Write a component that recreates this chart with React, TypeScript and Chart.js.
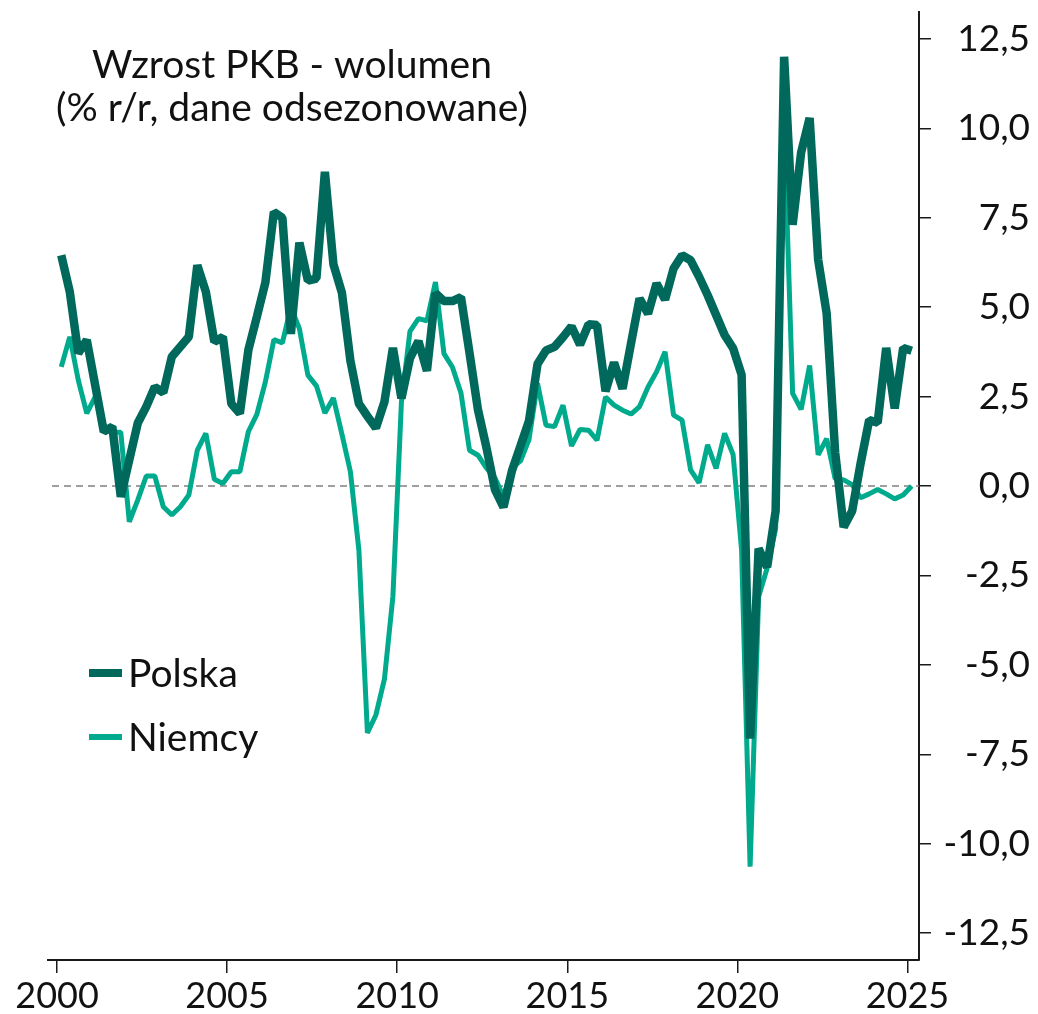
import React, { useEffect, useRef } from "react";
import { Chart, registerables } from "chart.js";

Chart.register(...registerables);

const START_YEAR = 2000;
const QUARTER_COUNT = 101; // 2000Q1 .. 2025Q1

const polska: number[] = [
  6.45, 5.43, 3.71, 4.08, 2.8, 1.52, 1.66, -0.3, 0.73, 1.76,
  2.22, 2.77, 2.61, 3.61, 3.89, 4.17, 6.17, 5.43, 4.03, 4.17,
  2.3, 2.03, 3.8, 4.73, 5.69, 7.66, 7.5, 4.25, 6.8, 5.74,
  5.8, 8.78, 6.2, 5.4, 3.5, 2.3, 1.95, 1.62, 2.35, 3.86,
  2.45, 3.57, 4.05, 3.22, 5.39, 5.17, 5.17, 5.28, 3.73, 2.13,
  1.07, -0.1, -0.59, 0.43, 1.12, 1.82, 3.41, 3.79, 3.89, 4.16,
  4.46, 3.95, 4.52, 4.5, 2.65, 3.45, 2.72, 3.99, 5.24, 4.82,
  5.66, 5.21, 6.08, 6.45, 6.31, 5.85, 5.34, 4.78, 4.22, 3.85,
  3.11, -7.06, -1.75, -2.27, -0.7, 12.0, 7.3, 9.32, 10.29, 6.33,
  4.83, 0.94, -1.15, -0.7, 0.64, 1.84, 1.77, 3.86, 2.17, 3.86,
  3.78,
];

const niemcy: number[] = [
  3.33, 4.17, 2.96, 2.03, 2.5, 1.7, 1.5, 1.5, -1.0, -0.39,
  0.28, 0.28, -0.58, -0.81, -0.58, -0.25, 1.0, 1.47, 0.19, 0.07,
  0.4, 0.4, 1.52, 2.0, 2.91, 4.09, 4.0, 5.0, 4.4, 3.1,
  2.8, 2.04, 2.46, 1.45, 0.4, -1.8, -6.9, -6.4, -5.4, -3.08,
  2.35, 4.32, 4.68, 4.62, 5.7, 3.7, 3.32, 2.6, 1.0, 0.86,
  0.5, 0.22, -0.3, 0.5, 0.7, 1.3, 2.87, 1.7, 1.66, 2.26,
  1.12, 1.58, 1.56, 1.28, 2.49, 2.26, 2.12, 2.01, 2.22, 2.77,
  3.19, 3.75, 1.98, 1.84, 0.45, 0.09, 1.15, 0.49, 1.47, 0.88,
  -1.8, -10.64, -3.1, -2.3, -1.2, 10.0, 2.59, 2.14, 3.37, 0.87,
  1.32, 0.2, 0.17, 0.04, -0.33, -0.22, -0.1, -0.22, -0.36, -0.25,
  0.0,
];

const seriesLabels = ["Polska", "Niemcy"];
const xTickYears = [2000, 2005, 2010, 2015, 2020, 2025];
const yTickValues = [-12.5, -10, -7.5, -5, -2.5, 0, 2.5, 5, 7.5, 10, 12.5];
const titleLines = ["Wzrost PKB - wolumen", "(% r/r, dane odsezonowane)"];

const DARK = "#00695B";
const LIGHT = "#00AA8C";
const FONT = "Lato, 'Noto Sans', sans-serif";

const quarterX = (i: number) => START_YEAR + Math.floor(i / 4) + (i % 4) / 4 + 0.125;

const zeroLinePlugin = {
  id: "zeroLine",
  beforeDatasetsDraw(chart: any) {
    const { ctx, chartArea, scales } = chart;
    const y = scales.y.getPixelForValue(0);
    ctx.save();
    ctx.strokeStyle = "#808080";
    ctx.lineWidth = 1.5;
    ctx.setLineDash([7, 5]);
    ctx.beginPath();
    ctx.moveTo(chartArea.left + 4, y);
    ctx.lineTo(chartArea.right, y);
    ctx.stroke();
    ctx.restore();
  },
};

const textPlugin = {
  id: "textOverlay",
  afterDraw(chart: any) {
    const { ctx } = chart;
    ctx.save();
    ctx.fillStyle = "#111";
    ctx.font = `39px ${FONT}`;
    ctx.textAlign = "center";
    ctx.textBaseline = "alphabetic";
    ctx.fillText(titleLines[0], 284, 70);
    ctx.fillText(titleLines[1], 284, 113);

    // legend
    const items = chart.data.datasets;
    const rows = [665, 729];
    ctx.textAlign = "left";
    ctx.textBaseline = "middle";
    ctx.font = `39px ${FONT}`;
    items.forEach((ds: any, k: number) => {
      const y = rows[k];
      ctx.strokeStyle = ds.borderColor;
      ctx.lineWidth = k === 0 ? 8 : 6;
      ctx.beginPath();
      ctx.moveTo(81, y);
      ctx.lineTo(114, y);
      ctx.stroke();
      ctx.fillStyle = "#111";
      ctx.fillText(ds.label, 120, y + 1);
    });
    ctx.restore();
  },
};

export default function App() {
  const ref = useRef<HTMLCanvasElement | null>(null);

  useEffect(() => {
    document.body.style.overflow = "hidden";
    const canvas = ref.current;
    if (!canvas) return;
    const xs = Array.from({ length: QUARTER_COUNT }, (_, i) => quarterX(i));
    const chart = new Chart(canvas, {
      type: "line",
      data: {
        datasets: [
          {
            label: seriesLabels[0],
            data: polska.map((v, i) => ({ x: xs[i], y: v })),
            borderColor: DARK,
            backgroundColor: DARK,
            borderWidth: 8.5,
            borderJoinStyle: "bevel",
            pointRadius: 0,
            tension: 0,
          },
          {
            label: seriesLabels[1],
            data: niemcy.map((v, i) => ({ x: xs[i], y: v })),
            borderColor: LIGHT,
            backgroundColor: LIGHT,
            borderWidth: 5,
            borderJoinStyle: "bevel",
            pointRadius: 0,
            tension: 0,
          },
        ],
      },
      options: {
        animation: false,
        responsive: false,
        maintainAspectRatio: false,
        layout: { padding: { left: 40, top: 4, right: 0, bottom: 0 } },
        plugins: {
          legend: { display: false },
          tooltip: { enabled: false },
          title: { display: false },
        },
        scales: {
          x: {
            type: "linear",
            position: "bottom",
            min: 1999.735,
            max: 2025.34,
            afterBuildTicks: (scale: any) => {
              scale.ticks = xTickYears.map((v) => ({ value: v }));
            },
            afterFit: (scale: any) => {
              scale.height = 54;
              scale.paddingLeft = 0;
              scale.paddingRight = 0;
            },
            border: { display: true, color: "#1a1a1a", width: 2 },
            grid: {
              display: true,
              drawOnChartArea: false,
              drawTicks: true,
              tickLength: 13,
              color: "#1a1a1a",
              lineWidth: 1.5,
            },
            ticks: {
              color: "#111",
              font: { family: FONT, size: 36 },
              padding: 2,
              maxRotation: 0,
              autoSkip: false,
              callback: (v: any) => String(v),
            },
          },
          y: {
            type: "linear",
            position: "right",
            min: -13.25,
            max: 13.25,
            afterBuildTicks: (scale: any) => {
              scale.ticks = yTickValues.map((v) => ({ value: v }));
            },
            afterFit: (scale: any) => {
              scale.width = 111;
              scale.paddingTop = 0;
              scale.paddingBottom = 0;
            },
            border: { display: true, color: "#1a1a1a", width: 2 },
            grid: {
              display: true,
              drawOnChartArea: false,
              drawTicks: true,
              tickLength: 12,
              color: "#1a1a1a",
              lineWidth: 1.5,
            },
            ticks: {
              color: "#111",
              font: { family: FONT, size: 37 },
              crossAlign: "far",
              autoSkip: false,
              callback: (v: any) => Number(v).toFixed(1).replace(".", ","),
            },
          },
        },
      },
      plugins: [zeroLinePlugin, textPlugin],
    });
    return () => chart.destroy();
  }, []);

  return (
    <div style={{ width: 1022, height: 1006 }}>
      <canvas ref={ref} width={1022} height={1006} style={{ display: "block" }} />
    </div>
  );
}
